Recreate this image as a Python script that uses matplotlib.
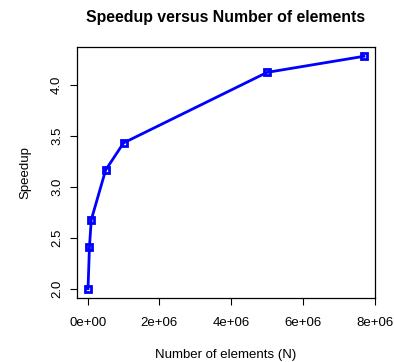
import matplotlib
matplotlib.use("Agg")
import matplotlib.pyplot as plt
from matplotlib.ticker import FuncFormatter

plt.rcParams["font.family"] = ["Liberation Sans", "DejaVu Sans"]

# data
n_elements = [1e4, 5e4, 1e5, 5e5, 1e6, 5e6, 7.7e6]
speedup = [2.00, 2.41, 2.675, 3.163, 3.43, 4.122, 4.28]
x_ticks = [0, 2e6, 4e6, 6e6, 8e6]
y_ticks = [2.0, 2.5, 3.0, 3.5, 4.0]

fig = plt.figure(figsize=(3.94, 3.62), dpi=100)
ax = fig.add_axes([0.1954, 0.1768, 0.7563, 0.6934])

ax.plot(n_elements, speedup, color="blue", lw=2, marker="s", ms=5,
        mfc="none", mec="blue", mew=2)
ax.margins(0.04)

ax.set_xticks(x_ticks)
ax.xaxis.set_major_formatter(FuncFormatter(lambda v, p: f"{v:.0e}"))
ax.set_yticks(y_ticks)
ax.set_yticklabels([f"{v:.1f}" for v in y_ticks], rotation=90, va="center")

ax.tick_params(direction="out", length=5, width=0.8, labelsize=9.5)
ax.tick_params(axis="x", pad=9)
ax.tick_params(axis="y", pad=5)
for s in ax.spines.values():
    s.set_linewidth(0.9)

ax.set_xlabel("Number of elements (N)", fontsize=9.5, labelpad=14)
ax.set_ylabel("Speedup", fontsize=9.5, labelpad=14)
ax.set_title("Speedup versus Number of elements", fontsize=11.4,
             fontweight="bold", pad=18)

fig.savefig("out.png", dpi=100)
